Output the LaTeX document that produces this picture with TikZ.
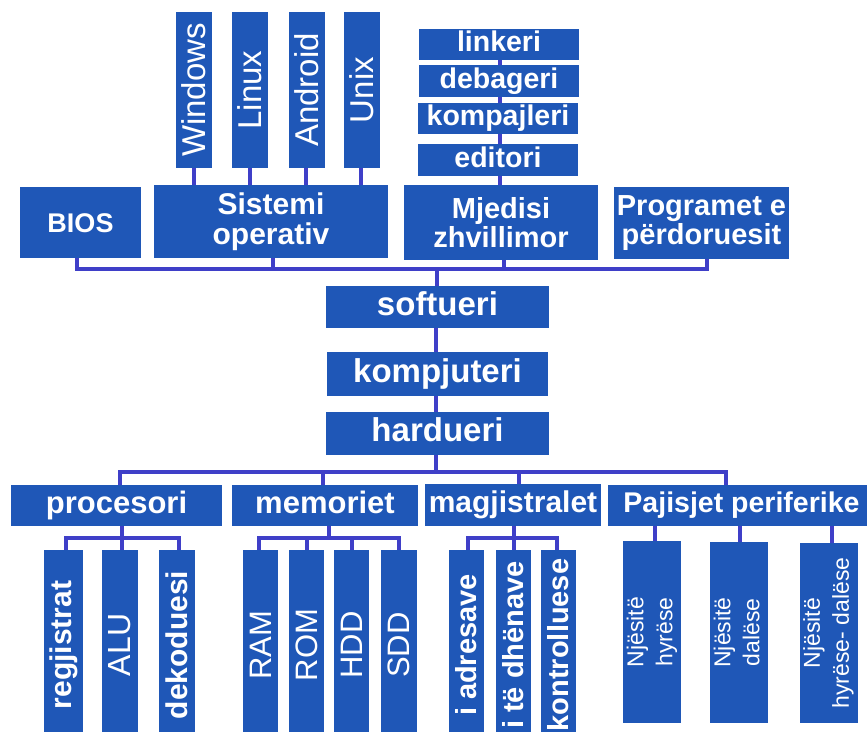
\documentclass[tikz,border=0pt]{standalone}
\usepackage{fontspec}
\setmainfont{Liberation Sans}
\usetikzlibrary{backgrounds}
\pgfdeclarelayer{paper}
\pgfsetlayers{paper,background,main}
\definecolor{boxblue}{HTML}{1F57B7}
\definecolor{wirecol}{HTML}{3F3FC8}
\tikzset{
  box/.style={fill=boxblue, text=white, inner sep=0pt, outer sep=0pt, align=center},
  bf/.style={font=\bfseries\fontsize{#1}{29.5}\selectfont},
  bfl/.style={bf=#1, text height={0.75*#1pt}, text depth={0.25*#1pt}},
  rg/.style={font=\fontsize{#1}{29}\selectfont},
  wire/.style={draw=wirecol, line width=4pt},
}
\newcommand\up[1]{\rotatebox{90}{#1}}
\newcommand\uptwo[2]{\rotatebox{90}{\begin{tabular}{@{}c@{}}#1\\#2\end{tabular}}}
\begin{document}
\begin{tikzpicture}[x=1pt, y=-1pt]
\useasboundingbox (0,0) rectangle (867,731);
\begin{pgfonlayer}{paper}
  \fill[white] (0,0) rectangle (867,731);
\end{pgfonlayer}
\clip (0,0) rectangle (867,731);

% operating systems
\node[box, rg=33, minimum width=36pt, minimum height=156pt] (win)     at (194,90)   {\up{Windows}};
\node[box, rg=33, minimum width=36pt, minimum height=156pt] (linux)   at (250,90)   {\up{Linux}};
\node[box, rg=33, minimum width=36pt, minimum height=156pt] (android) at (306.5,90) {\up{Android}};
\node[box, rg=33, minimum width=36pt, minimum height=156pt] (unix)    at (361.5,90) {\up{Unix}};

% development tools
\node[box, bfl=28.5, minimum width=160pt, minimum height=31pt] (linkeri)    at (499,44.5)  {linkeri};
\node[box, bfl=28.5, minimum width=160pt, minimum height=32pt] (debageri)   at (499,81)    {debageri};
\node[box, bfl=28.5, minimum width=160pt, minimum height=31pt] (kompajleri) at (498,118.5) {kompajleri};
\node[box, bfl=28.5, minimum width=160pt, minimum height=32pt] (editori)    at (498,160)   {editori};

% software layer
\node[box, bf=27, text height=19pt, text depth=0pt, minimum width=121pt, minimum height=71pt] (bios) at (80.5,222.5) {BIOS};
\node[box, bf=30, minimum width=234pt, minimum height=73pt] (sistemi)   at (271,221.5)  {Sistemi\\operativ};
\node[box, bf=29, minimum width=194pt, minimum height=75pt] (mjedisi)   at (501,222.5)  {Mjedisi\\zhvillimor};
\node[box, bf=29, minimum width=175pt, minimum height=72pt] (programet) at (701.5,223)  {Programet e\\përdoruesit};

% central column
\node[box, bfl=33, minimum width=223pt, minimum height=42pt] (softueri)   at (437.5,307)   {softueri};
\node[box, bfl=33, minimum width=221pt, minimum height=44pt] (kompjuteri) at (437.5,374)   {kompjuteri};
\node[box, bfl=33, minimum width=223pt, minimum height=43pt] (hardueri)   at (437.5,433.5) {hardueri};

% hardware groups
\node[box, bfl=31,   minimum width=211pt, minimum height=41pt] (procesori)    at (116.5,505.5) {procesori};
\node[box, bfl=31,   minimum width=186pt, minimum height=41pt] (memoriet)     at (325,505.5)   {memoriet};
\node[box, bfl=30,   minimum width=176pt, minimum height=42pt] (magjistralet) at (513,505)     {magjistralet};
\node[box, bfl=28.5, minimum width=267pt, minimum height=41pt] (pajisjet)     at (741.5,505.5) {Pajisjet periferike};

% processor parts
\node[box, bf=30, minimum width=39pt, minimum height=190pt] (regjistrat) at (63.5,645) {\up{regjistrat}};
\node[box, rg=32, minimum width=36pt, minimum height=190pt] (alu)        at (120,645)  {\up{ALU}};
\node[box, bf=30, minimum width=36pt, minimum height=190pt] (dekoduesi)  at (177,645)  {\up{dekoduesi}};

% memories
\node[box, rg=31, minimum width=35pt, minimum height=190pt] (ram) at (260.5,645) {\up{RAM}};
\node[box, rg=31, minimum width=35pt, minimum height=190pt] (rom) at (306.5,645) {\up{ROM}};
\node[box, rg=31, minimum width=35pt, minimum height=190pt] (hdd) at (351.5,645) {\up{HDD}};
\node[box, rg=31, minimum width=36pt, minimum height=190pt] (sdd) at (399,645)   {\up{SDD}};

% buses
\node[box, bf=29, minimum width=35pt, minimum height=190pt] (adresave) at (466.5,645) {\up{i adresave}};
\node[box, bf=29, minimum width=35pt, minimum height=190pt] (dhenave)  at (513.5,645) {\up{i të dhënave}};
\node[box, bf=29, minimum width=35pt, minimum height=190pt] (kontroll) at (558.5,645) {\up{kontrolluese}};

% peripheral units
\node[box, rg=23, minimum width=56pt, minimum height=182pt] (hyrese) at (652,632)   {\uptwo{Njësitë}{hyrëse}};
\node[box, rg=23, minimum width=56pt, minimum height=181pt] (dalese) at (739,632.5) {\uptwo{Njësitë}{dalëse}};
\node[box, rg=23, minimum width=57pt, minimum height=180pt] (hyrdal) at (828.5,633) {\uptwo{Njësitë}{hyrëse- dalëse}};

% connectors, kept behind the boxes
\begin{scope}[on background layer]
\begin{scope}[wire]
  \foreach \n in {win,linux,android,unix}
    \draw ([xshift=-0.5pt]\n.center) -- ([xshift=-0.5pt]\n.center |- sistemi.center);
  \draw ([xshift=1pt]linkeri.center) -- ([xshift=1pt]linkeri.center |- mjedisi.center);

  \coordinate (swbus) at (437,269);
  \draw ([xshift=-3.5pt]bios.center) |- (swbus) -| ([xshift=5.5pt]programet.center);
  \draw ([xshift=2pt]sistemi.center) -- ([xshift=2pt]sistemi.center |- swbus);
  \draw ([xshift=3pt]mjedisi.center) -- ([xshift=3pt]mjedisi.center |- swbus);
  \draw ([xshift=-1pt]softueri.center) -- ([xshift=-1pt]softueri.center |- swbus);
  \draw ([xshift=-1.5pt]softueri.center) -- ([xshift=-1.5pt]hardueri.center);

  \coordinate (hwbus) at (436,472);
  \draw ([xshift=-1.5pt]hardueri.center) -- (hwbus);
  \draw ([xshift=3.5pt]procesori.center) |- (hwbus) -| ([xshift=-15.5pt]pajisjet.center);
  \draw ([xshift=-2pt]memoriet.center) -- ([xshift=-2pt]memoriet.center |- hwbus);
  \draw ([xshift=6pt]magjistralet.center) -- ([xshift=6pt]magjistralet.center |- hwbus);

  \coordinate (cpubus) at (122,538);
  \draw ([xshift=2.5pt]regjistrat.center) |- (cpubus) -| ([xshift=2pt]dekoduesi.center);
  \draw ([xshift=2pt]alu.center) -- ([xshift=2pt]alu.center |- procesori.center);

  \coordinate (membus) at (329,538);
  \draw ([xshift=-1.5pt]ram.center) |- (membus) -| (sdd.center);
  \draw ([xshift=4pt]memoriet.center) -- ([xshift=4pt]memoriet.center |- membus);
  \draw (rom.center) -- (rom.center |- membus);
  \draw (hdd.center) -- (hdd.center |- membus);

  \coordinate (busbus) at (514,538);
  \draw ([xshift=1.5pt]adresave.center) |- (busbus) -| ([xshift=-1.5pt]kontroll.center);
  \draw ([xshift=1pt]magjistralet.center) -- ([xshift=0.5pt]dhenave.center);

  \draw ([xshift=3pt]hyrese.center) -- ([xshift=3pt]hyrese.center |- pajisjet.center);
  \draw ([xshift=1pt]dalese.center) -- ([xshift=1pt]dalese.center |- pajisjet.center);
  \draw ([xshift=3.5pt]hyrdal.center) -- ([xshift=3.5pt]hyrdal.center |- pajisjet.center);
\end{scope}
\end{scope}
\end{tikzpicture}
\end{document}
